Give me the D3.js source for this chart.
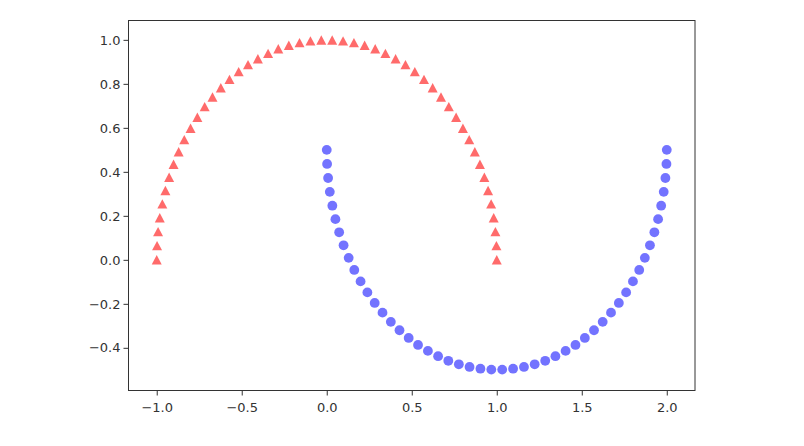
<!DOCTYPE html>
<html><head><meta charset="utf-8">
<script src="https://cdn.jsdelivr.net/npm/d3@7"></script>
<style>body{margin:0;background:#fff}svg{display:block}</style>
</head><body>
<svg id="c" width="804" height="446"></svg>
<script>
const outerX = [1.000,0.998,0.992,0.982,0.967,0.949,0.927,0.901,0.871,0.838,0.801,0.761,0.718,0.672,0.623,0.572,0.518,0.463,0.405,0.345,0.285,0.223,0.160,0.096,0.032,-0.032,-0.096,-0.160,-0.223,-0.285,-0.345,-0.405,-0.463,-0.518,-0.572,-0.623,-0.672,-0.718,-0.761,-0.801,-0.838,-0.871,-0.901,-0.927,-0.949,-0.967,-0.982,-0.992,-0.998,-1.000];
const outerY = [0.000,0.064,0.128,0.191,0.254,0.315,0.375,0.434,0.491,0.546,0.598,0.648,0.696,0.740,0.782,0.820,0.855,0.887,0.914,0.938,0.959,0.975,0.987,0.995,0.999,0.999,0.995,0.987,0.975,0.959,0.938,0.914,0.887,0.855,0.820,0.782,0.740,0.696,0.648,0.598,0.546,0.491,0.434,0.375,0.315,0.254,0.191,0.128,0.064,0.000];
const innerX = [0.000,0.002,0.008,0.018,0.033,0.051,0.073,0.099,0.129,0.162,0.199,0.239,0.282,0.328,0.377,0.428,0.482,0.537,0.595,0.655,0.715,0.777,0.840,0.904,0.968,1.032,1.096,1.160,1.223,1.285,1.345,1.405,1.463,1.518,1.572,1.623,1.672,1.718,1.761,1.801,1.838,1.871,1.901,1.927,1.949,1.967,1.982,1.992,1.998,2.000];
const innerY = [0.500,0.436,0.372,0.309,0.246,0.185,0.125,0.066,0.009,-0.046,-0.098,-0.148,-0.196,-0.240,-0.282,-0.320,-0.355,-0.387,-0.414,-0.438,-0.459,-0.475,-0.487,-0.495,-0.499,-0.499,-0.495,-0.487,-0.475,-0.459,-0.438,-0.414,-0.387,-0.355,-0.320,-0.282,-0.240,-0.196,-0.148,-0.098,-0.046,0.009,0.066,0.125,0.185,0.246,0.309,0.372,0.436,0.500];
const xTicks = [-1.0,-0.5,0.0,0.5,1.0,1.5,2.0];
const yTicks = [-0.4,-0.2,0.0,0.2,0.4,0.6,0.8,1.0];

const L=128.5, R=695, T=20.5, B=390.5;
const x = d3.scaleLinear().domain([-1.166,2.166]).range([L,R]);
const y = d3.scaleLinear().domain([-0.594,1.088]).range([B,T]);
const svg = d3.select("#c");
const fmt = v => d3.format(".1f")(v).replace("-","\u2212");

const gx = svg.append("g").attr("transform",`translate(0,${B})`)
  .call(d3.axisBottom(x).tickValues(xTicks).tickFormat(fmt).tickSize(5).tickSizeOuter(0));
const gy = svg.append("g").attr("transform",`translate(${L},0)`)
  .call(d3.axisLeft(y).tickValues(yTicks).tickFormat(fmt).tickSize(5).tickSizeOuter(0));
[gx,gy].forEach(g=>{
  g.select(".domain").remove();
  g.selectAll(".tick line").attr("stroke","#333").attr("stroke-width",1);
  g.selectAll(".tick text").attr("fill","#333").attr("font-family","DejaVu Sans").attr("font-size","13px");
});
gx.selectAll(".tick text").attr("dy","1.05em");
gy.selectAll(".tick text").attr("x",-8);

svg.append("rect").attr("x",L).attr("y",T).attr("width",R-L).attr("height",B-T)
  .attr("fill","none").attr("stroke","#333").attr("stroke-width",1);

const inner = innerX.map((v,i)=>[v,innerY[i]]);
const outer = outerX.map((v,i)=>[v,outerY[i]]);
svg.append("g").selectAll("circle").data(inner).join("circle")
  .attr("cx",d=>x(d[0])).attr("cy",d=>y(d[1])).attr("r",4.9)
  .attr("fill","blue").attr("fill-opacity",0.55);
const triPath = "M0,-4.8L5,4.6L-5,4.6Z";
svg.append("g").selectAll("path").data(outer).join("path")
  .attr("d",triPath).attr("transform",d=>`translate(${x(d[0])},${y(d[1])})`)
  .attr("fill","red").attr("fill-opacity",0.58);
</script>
</body></html>
